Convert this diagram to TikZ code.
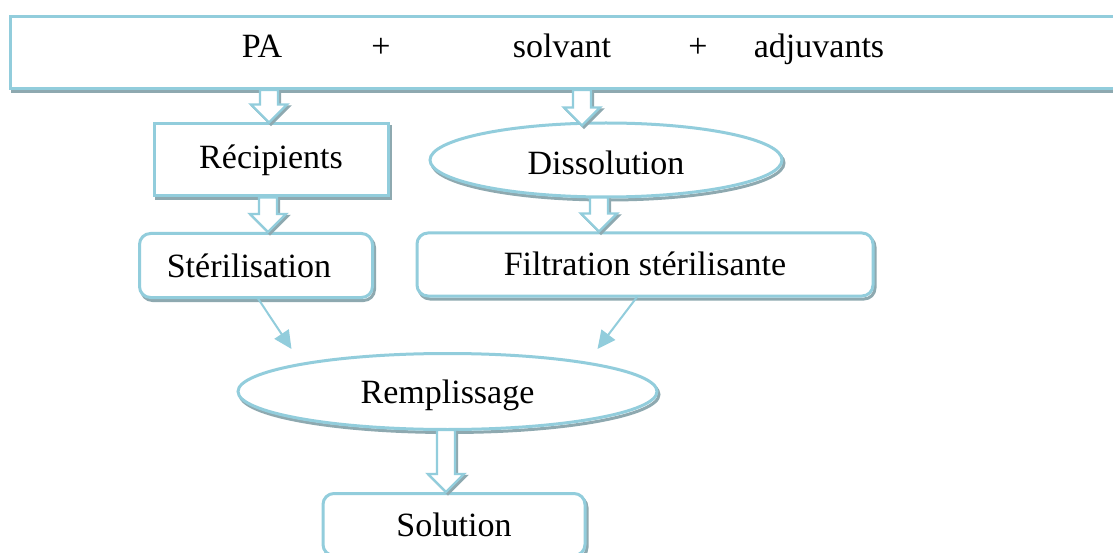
\documentclass[tikz,border=0pt]{standalone}
\usepackage{fontspec}
\setmainfont{Liberation Serif}
\usetikzlibrary{shapes.geometric,calc,arrows.meta}
\definecolor{edgeblue}{HTML}{92CDDC}
\definecolor{shadegray}{HTML}{8EA9B0}
\tikzset{
  shade under/.style={preaction={draw=shadegray, line width=3pt,
      transform canvas={shift={(2pt,-3pt)}}}},
  boxbase/.style={draw=edgeblue, line width=3pt, fill=white, shade under,
      inner sep=0pt, text height=23pt, text depth=0pt,
      font=\fontsize{34}{40}\selectfont},
  squarebox/.style={boxbase, rectangle},
  roundbox/.style={boxbase, rectangle, rounded corners=11pt},
  ovalbox/.style={boxbase, ellipse},
  label text/.style={inner sep=0pt, font=\fontsize{34}{40}\selectfont, anchor=base},
  thin link/.style={draw=edgeblue, line width=2pt,
      -{Triangle[length=18pt,width=17pt]}},
}
% hollow block arrow between two points (vertical, pointing down)
\newcommand\hollowarrow[2]{%
  \foreach \dx/\dy/\col/\fl in {2pt/-2pt/shadegray/shadegray, 0pt/0pt/edgeblue/white}{%
    \path[draw=\col, fill=\fl, line width=2.4pt, line join=miter]
      let \p1=#1, \p2=#2 in
      (\x1-9pt+\dx,\y1+\dy) -- (\x1+9pt+\dx,\y1+\dy) -- (\x1+9pt+\dx,\y2+18pt+\dy)
      -- (\x1+18pt+\dx,\y2+18pt+\dy) -- (\x1+\dx,\y2+\dy) -- (\x1-18pt+\dx,\y2+18pt+\dy)
      -- (\x1-9pt+\dx,\y2+18pt+\dy) -- cycle;
  }%
}
\begin{document}
\begin{tikzpicture}[x=1pt,y=-1pt]
  \clip (0,0) rectangle (1113,553);
  \fill[white] (0,0) rectangle (1113,553);

  % ingredients bar
  \node[squarebox, minimum width=1118pt, minimum height=72pt, anchor=north west] (top) at (9,15) {};
  \node[label text] (pa)   at (262,58) {PA};
  \node[label text] (plus1) at (381,58) {+};
  \node[label text] (solv) at (562,58) {solvant};
  \node[label text] (plus2) at (698,58) {+};
  \node[label text] (adj)  at (819,58) {adjuvants};

  % process steps
  \node[squarebox, minimum width=234pt, minimum height=72pt] (rec) at (271,160) {\raisebox{3pt}{Récipients}};
  \node[ovalbox, minimum width=352pt, minimum height=74pt] (dis) at (606,160) {\raisebox{-3pt}{Dissolution}};
  \node[roundbox, minimum width=233pt, minimum height=64pt] (ster) at (256,265.5) {\hspace*{-14pt}Stérilisation};
  \node[roundbox, minimum width=456pt, minimum height=63pt] (filt) at (645,264.5) {Filtration stérilisante};
  \node[ovalbox, minimum width=419pt, minimum height=76pt] (remp) at (447.5,391.5) {Remplissage};
  \node[roundbox, minimum width=262pt, minimum height=62pt, anchor=north] (sol) at (454,492) {Solution};

  % block arrow columns
  \coordinate (c1) at (269,0);
  \coordinate (c2) at (582,0);
  \coordinate (c3) at (268,0);
  \coordinate (c4) at (599,0);
  \coordinate (c5) at (446,0);

  \hollowarrow{(top.south -| c1)}{(rec.north -| c1)}
  \hollowarrow{(top.south -| c2)}{($(dis.north -| c2)+(0,4)$)}
  \hollowarrow{(rec.south -| c3)}{(ster.north -| c3)}
  \hollowarrow{($(dis.south -| c4)+(0,-1)$)}{(filt.north -| c4)}
  \hollowarrow{($(remp.south -| c5)+(0,-1)$)}{(sol.north -| c5)}

  % converging links
  \coordinate (s1) at (257,297);
  \coordinate (s2) at (637,297);
  \draw[thin link] (s1) -- ($(remp.north)+(-156,-3)$);
  \draw[thin link] (s2) -- ($(remp.north)+(150,-3)$);
\end{tikzpicture}
\end{document}
